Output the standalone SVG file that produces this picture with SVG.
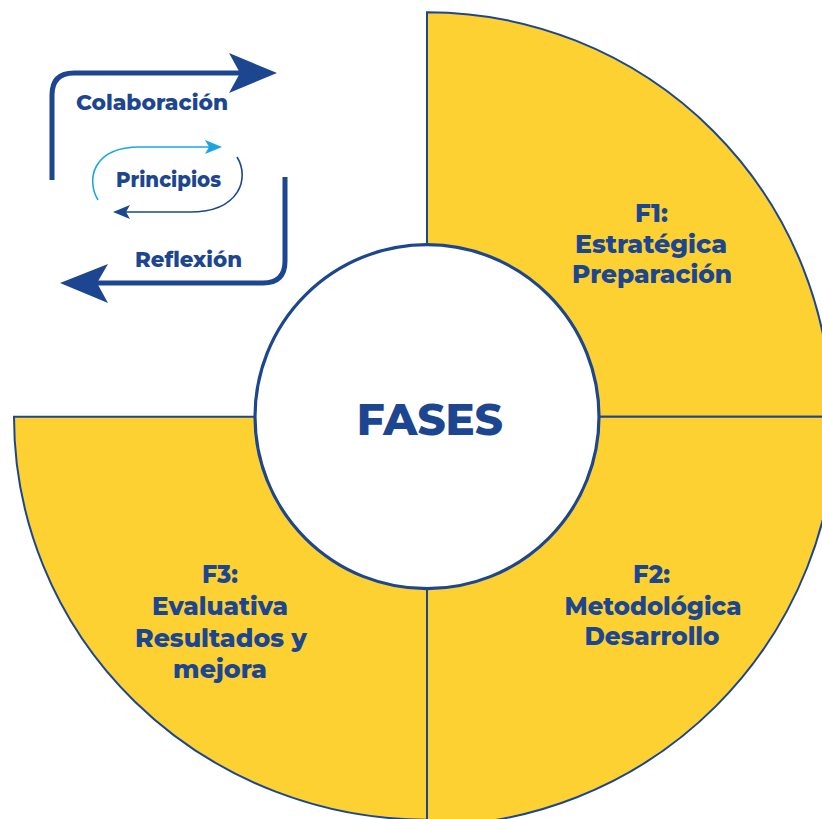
<svg xmlns="http://www.w3.org/2000/svg" width="822" height="819" viewBox="0 0 822 819">
<defs>
<style>
.q{fill:#FDD131;stroke:#1D4690;stroke-width:2}
.t{font-family:Montserrat,"Open Sans","Noto Sans",sans-serif;font-weight:800;fill:#1D4690;text-anchor:middle}
.ph{font-size:25px}
.lb{font-size:21px}
.big{fill:none;stroke:#1D4690;stroke-width:5}
.ah{fill:#1D4690}
</style>
</defs>
<rect width="822" height="819" fill="#FFFFFF"/>
<g id="f1"><path class="q" d="M427,416.7 L427,12.3 A404.4,404.4 0 0 1 831.4,416.7 Z"/>
<text class="t ph" x="651.5" y="222" textLength="33" lengthAdjust="spacingAndGlyphs">F1:</text>
<text class="t ph" x="651" y="253" textLength="152" lengthAdjust="spacingAndGlyphs">Estratégica</text>
<text class="t ph" x="652" y="283" textLength="160" lengthAdjust="spacingAndGlyphs">Preparación</text>
</g>
<g id="f2"><path class="q" d="M427,416.7 L836,416.7 A409,409 0 0 1 427,825.7 Z"/>
<text class="t ph" x="651.5" y="583" textLength="37" lengthAdjust="spacingAndGlyphs">F2:</text>
<text class="t ph" x="653" y="615" textLength="177" lengthAdjust="spacingAndGlyphs">Metodológica</text>
<text class="t ph" x="652" y="645" textLength="135" lengthAdjust="spacingAndGlyphs">Desarrollo</text>
</g>
<g id="f3"><path class="q" d="M427,416.7 L427,819.7 A413,403 0 0 1 14,416.7 Z"/>
<text class="t ph" x="220" y="583" textLength="36" lengthAdjust="spacingAndGlyphs">F3:</text>
<text class="t ph" x="220" y="615" textLength="136" lengthAdjust="spacingAndGlyphs">Evaluativa</text>
<text class="t ph" x="221" y="647" textLength="172" lengthAdjust="spacingAndGlyphs">Resultados y</text>
<text class="t ph" x="220" y="678" textLength="94" lengthAdjust="spacingAndGlyphs">mejora</text>
</g>
<g id="center"><circle cx="427" cy="416.7" r="172" fill="#FFFFFF" stroke="#1D4690" stroke-width="3.2"/>
<text class="t" x="429.7" y="435" style="font-size:43px" textLength="146" lengthAdjust="spacingAndGlyphs">FASES</text>
</g>
<g id="connectors">
<path class="big" d="M52,180 L52,95 Q52,73 74,73 L245,73"/>
<path class="ah" d="M277,73 L229,53 L240,73 L229,93 Z"/>
<path class="big" d="M285,177 L285,261 Q285,283 263,283 L95,283"/>
<path class="ah" d="M60,283 L108,264 L97,283 L108,303 Z"/>
<path d="M98,200 C86,180 92,147 140,147 L212,147" fill="none" stroke="#1CA6DF" stroke-width="1.6"/>
<path d="M222,147 L205,140 L209,147 L205,154 Z" fill="#1CA6DF"/>
<path d="M237,157 C250,178 240,212 190,212 L122,212" fill="none" stroke="#1D4690" stroke-width="1.6"/>
<path d="M113,212 L130,205 L126,212 L130,219 Z" fill="#1D4690"/>
</g>
<g id="labels">
<text class="t lb" x="152" y="110" textLength="152" lengthAdjust="spacingAndGlyphs">Colaboración</text>
<text class="t lb" x="168.5" y="187" textLength="105" lengthAdjust="spacingAndGlyphs">Principios</text>
<text class="t lb" x="188.5" y="267" textLength="107" lengthAdjust="spacingAndGlyphs">Reflexión</text>
</g>
</svg>
